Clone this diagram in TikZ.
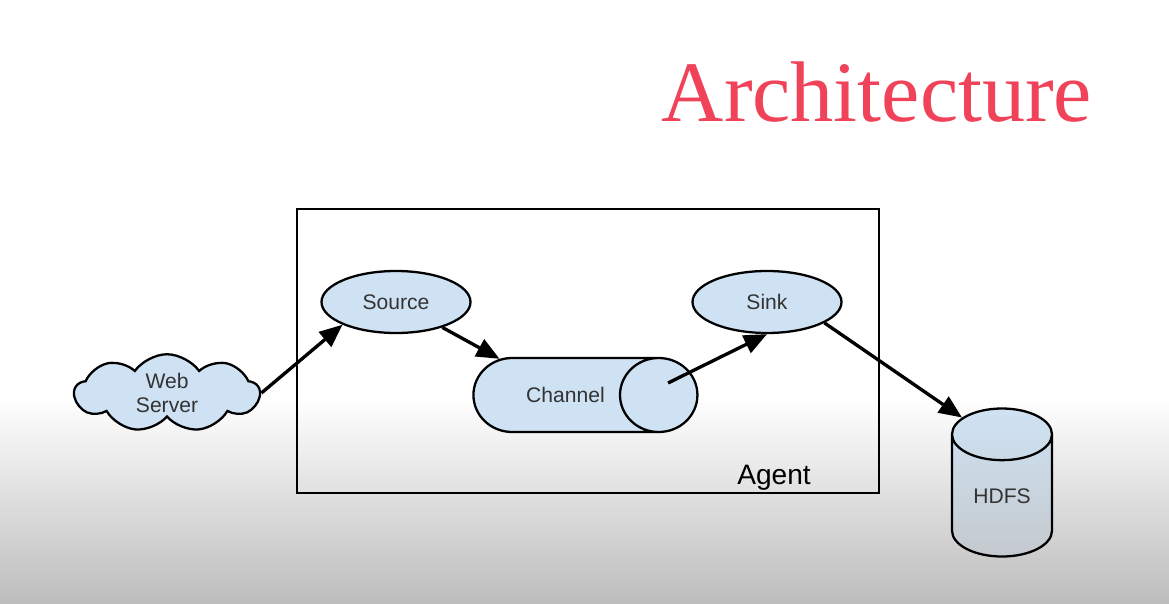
\documentclass[tikz,border=0pt]{standalone}
\usepackage{fontspec}
\setmainfont{Liberation Serif}
\setsansfont{Liberation Sans}
\usetikzlibrary{shapes.geometric,shapes.symbols,arrows.meta,positioning}
\definecolor{partblue}{HTML}{CFE2F3}
\definecolor{titlered}{HTML}{F0435A}

\begin{document}
\begin{tikzpicture}[
    part/.style={draw, line width=1.3pt, fill=partblue, inner sep=0pt,
      font=\sffamily\fontsize{12}{14}\selectfont, text=black!80},
    flow/.style={-{Triangle[length=0.46cm,width=0.38cm]}, line width=1.9pt}
  ]
  \useasboundingbox (0,0) rectangle (23.38,12.06);
  \fill[white] (0,0) rectangle (23.38,12.06);
  \shade[top color=white, bottom color=black!26] (0,0) rectangle (23.38,4.1);

  \node[anchor=base, text=titlered, font=\fontsize{49}{55}\selectfont] (title) at (17.54,9.62) {Architecture};

  \draw[line width=1.1pt] (5.94,2.2) rectangle (17.58,7.88);
  \node[anchor=base, font=\sffamily\fontsize{16}{19}\selectfont] (agent) at (15.48,2.38) {Agent};

  \node[part, ellipse, minimum width=2.98cm, minimum height=1.24cm] (src) at (7.92,6.02) {Source};
  \node[part, ellipse, minimum width=2.98cm, minimum height=1.24cm] (sink) at (15.34,6.02) {Sink};
  \node[part, cylinder, aspect=5, minimum width=1.48cm, minimum height=4.48cm] (ch) at (11.31,4.16) {Channel};
  \node[part, cloud, cloud puffs=9, cloud puff arc=110, aspect=2.4, minimum width=3.7cm, minimum height=1.54cm, align=center] (web) at (3.34,4.2) {Web\\Server};
  \node[part, cylinder, shape border rotate=90, aspect=0.9, minimum width=2cm, minimum height=2.96cm,
    shading=axis, top color=partblue, bottom color=partblue!60!black!45] (hdfs) at (20.04,2.14) {HDFS};
  \coordinate (chout) at (13.36,4.4);

  \draw[flow] (web.east) -- (src.south west);
  \draw[flow] (src) -- (ch);
  \draw[flow] (chout) -- (sink.south);
  \draw[flow] (sink.-20) -- (hdfs.117);
\end{tikzpicture}
\end{document}
